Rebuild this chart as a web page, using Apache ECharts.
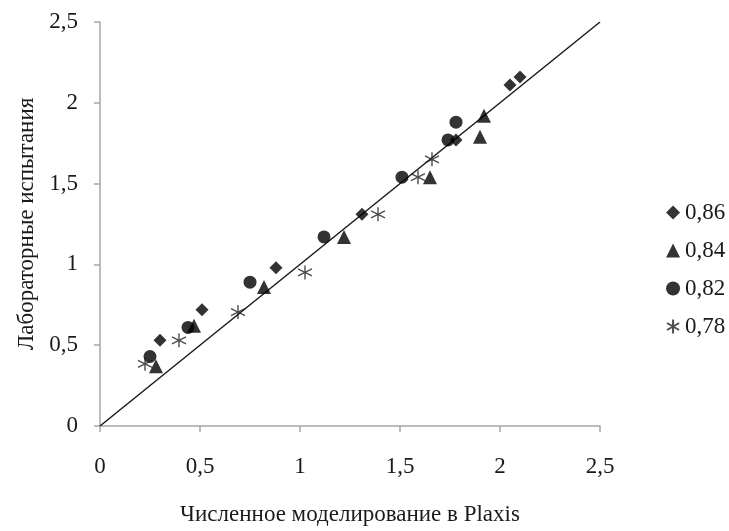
<!DOCTYPE html>
<html>
<head>
<meta charset="utf-8">
<script src="https://cdn.jsdelivr.net/npm/echarts@6/dist/echarts.min.js"></script>
<style>
  html, body { margin: 0; padding: 0; background: #fff; }
  #main { width: 729px; height: 531px; }
</style>
</head>
<body>
<div id="main"></div>
<script>
// values
var names = ['0,86', '0,84', '0,82', '0,78'];

var x086 = [0.30, 0.51, 0.88, 1.31, 1.78, 2.05, 2.10];
var y086 = [0.53, 0.72, 0.98, 1.31, 1.77, 2.11, 2.16];

var x084 = [0.28, 0.47, 0.82, 1.22, 1.65, 1.90, 1.92];
var y084 = [0.37, 0.62, 0.86, 1.17, 1.54, 1.79, 1.92];

var x082 = [0.25, 0.44, 0.75, 1.12, 1.51, 1.74, 1.78];
var y082 = [0.43, 0.61, 0.89, 1.17, 1.54, 1.77, 1.88];

var x078 = [0.225, 0.395, 0.69, 1.025, 1.39, 1.59, 1.66];
var y078 = [0.385, 0.53, 0.705, 0.95, 1.31, 1.54, 1.65];

var lineX = [0, 2.5];
var lineY = [0, 2.5];

function pairs(xs, ys) {
  return xs.map(function (x, i) { return [x, ys[i]]; });
}

var fmt = function (v) { return String(v).replace('.', ','); };
var font = '"Liberation Serif", "DejaVu Serif", serif';
var txt = '#1a1a1a';

var star = 'path://M0,-10L0,10M-8.66,-5L8.66,5M-8.66,5L8.66,-5';

var chart = echarts.init(document.getElementById('main'));

var option = {
  animation: false,
  backgroundColor: '#fff',
  textStyle: { fontFamily: font },
  grid: { left: 100, right: 129, top: 22, bottom: 102 },
  legend: {
    orient: 'vertical',
    left: 661,
    top: 196,
    itemGap: 15,
    itemWidth: 14,
    itemHeight: 14,
    textStyle: { fontFamily: font, fontSize: 23, color: txt },
    data: names
  },
  xAxis: {
    type: 'value',
    min: 0, max: 2.5, interval: 0.5,
    name: 'Численное моделирование в Plaxis',
    nameLocation: 'middle',
    nameGap: 77,
    nameTextStyle: { fontFamily: font, fontSize: 23, color: txt },
    axisLine: { lineStyle: { color: '#a6a6a6', width: 1.5 } },
    axisTick: { show: true, length: 6, lineStyle: { color: '#a6a6a6', width: 1.5 } },
    axisLabel: { formatter: fmt, fontFamily: font, fontSize: 23, color: txt, margin: 29 },
    splitLine: { show: false }
  },
  yAxis: {
    type: 'value',
    min: 0, max: 2.5, interval: 0.5,
    name: 'Лабораторные испытания',
    nameLocation: 'middle',
    nameGap: 62,
    nameTextStyle: { fontFamily: font, fontSize: 23, color: txt },
    axisLine: { show: true, lineStyle: { color: '#a6a6a6', width: 1.5 } },
    axisTick: { show: true, length: 6, lineStyle: { color: '#a6a6a6', width: 1.5 } },
    axisLabel: { formatter: fmt, fontFamily: font, fontSize: 23, color: txt, margin: 22 },
    splitLine: { show: false }
  },
  series: [
    {
      type: 'line',
      data: pairs(lineX, lineY),
      symbol: 'none',
      silent: true,
      lineStyle: { color: '#1a1a1a', width: 1.5 },
      z: 1
    },
    {
      name: names[0], type: 'scatter', data: pairs(x086, y086),
      symbol: 'diamond', symbolSize: 13,
      itemStyle: { color: '#000' }, z: 3
    },
    {
      name: names[1], type: 'scatter', data: pairs(x084, y084),
      symbol: 'triangle', symbolSize: 14,
      itemStyle: { color: '#000' }, z: 3
    },
    {
      name: names[2], type: 'scatter', data: pairs(x082, y082),
      symbol: 'circle', symbolSize: 13,
      itemStyle: { color: '#000' }, z: 3
    },
    {
      name: names[3], type: 'scatter', data: pairs(x078, y078),
      symbol: star, symbolSize: 14,
      itemStyle: { color: 'rgba(0,0,0,0)', borderColor: '#222', borderWidth: 1.4 }, z: 3
    }
  ]
};

chart.setOption(option);
</script>
</body>
</html>
